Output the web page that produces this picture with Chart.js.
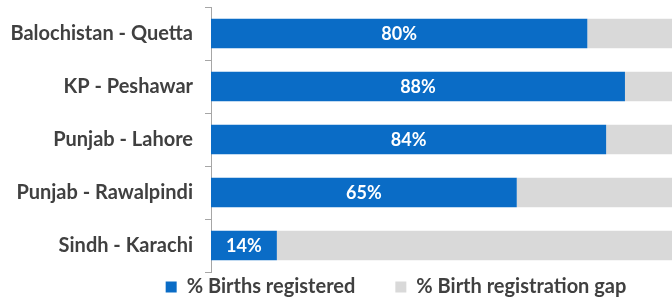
<!DOCTYPE html>
<html>
<head>
<meta charset="utf-8">
<script src="https://cdn.jsdelivr.net/npm/chart.js@4"></script>
<style>
  html, body { margin: 0; padding: 0; background: #fff; }
  #wrap { width: 672px; height: 300px; }
</style>
</head>
<body>
<div id="wrap"><canvas id="c" width="672" height="300"></canvas></div>
<script>
const categories = ["Balochistan - Quetta", "KP - Peshawar", "Punjab - Lahore", "Punjab - Rawalpindi", "Sindh - Karachi"];
const registered = [80, 88, 84, 65, 14];
const gap = [20, 12, 16, 35, 86];
const seriesNames = ["% Births registered", "% Birth registration gap"];

const FONT = "Lato, 'Open Sans', sans-serif";

const barLabels = {
  id: 'barLabels',
  afterDatasetsDraw(chart) {
    const ctx = chart.ctx;
    const meta = chart.getDatasetMeta(0);
    ctx.save();
    ctx.fillStyle = '#ffffff';
    ctx.font = "bold 18px " + FONT;
    ctx.textAlign = 'center';
    ctx.textBaseline = 'middle';
    meta.data.forEach((bar, i) => {
      const p = bar.getProps(['x', 'y', 'base'], true);
      const cx = (p.x + p.base) / 2;
      ctx.fillText(registered[i] + '%', cx, p.y + 1);
    });
    ctx.restore();
  }
};

// place the legend row under the plot, as in the reference
const legendPlacer = {
  id: 'legendPlacer',
  beforeDraw(chart) {
    const lg = chart.legend;
    if (!lg) return;
    lg.left = 120;
    lg.right = 672;
    lg.width = lg.right - lg.left;
    lg.top = 237;
    lg.bottom = 300;
    lg.height = lg.bottom - lg.top;
  }
};

new Chart(document.getElementById('c'), {
  type: 'bar',
  data: {
    labels: categories,
    datasets: [
      { label: seriesNames[0], data: registered, backgroundColor: '#0a6cc6', borderWidth: 0 },
      { label: seriesNames[1], data: gap, backgroundColor: '#d9d9d9', borderWidth: 0 }
    ]
  },
  options: {
    indexAxis: 'y',
    responsive: false,
    animation: false,
    maintainAspectRatio: false,
    layout: { padding: { left: 0, right: 0, top: 7, bottom: 0 } },
    datasets: { bar: { categoryPercentage: 1, barPercentage: 0.56 } },
    scales: {
      x: {
        stacked: true,
        display: false,
        min: 0,
        max: 98
      },
      y: {
        stacked: true,
        afterFit(scale) { scale.width = 211; scale.paddingTop = 0; scale.paddingBottom = 0; },
        border: { display: true, color: '#a6a6a6', width: 1 },
        grid: { drawOnChartArea: false, offset: true, tickLength: 6, color: '#a6a6a6' },
        ticks: { color: '#404040', padding: 12, font: { family: FONT, size: 20, weight: 'bold' } }
      }
    },
    plugins: {
      legend: {
        position: 'bottom',
        maxHeight: 28,
        labels: {
          boxWidth: 11, boxHeight: 11, padding: 40,
          color: '#404040',
          font: { family: FONT, size: 20, weight: 'bold' }
        }
      },
      tooltip: { enabled: false }
    }
  },
  plugins: [barLabels, legendPlacer]
});
</script>
</body>
</html>
